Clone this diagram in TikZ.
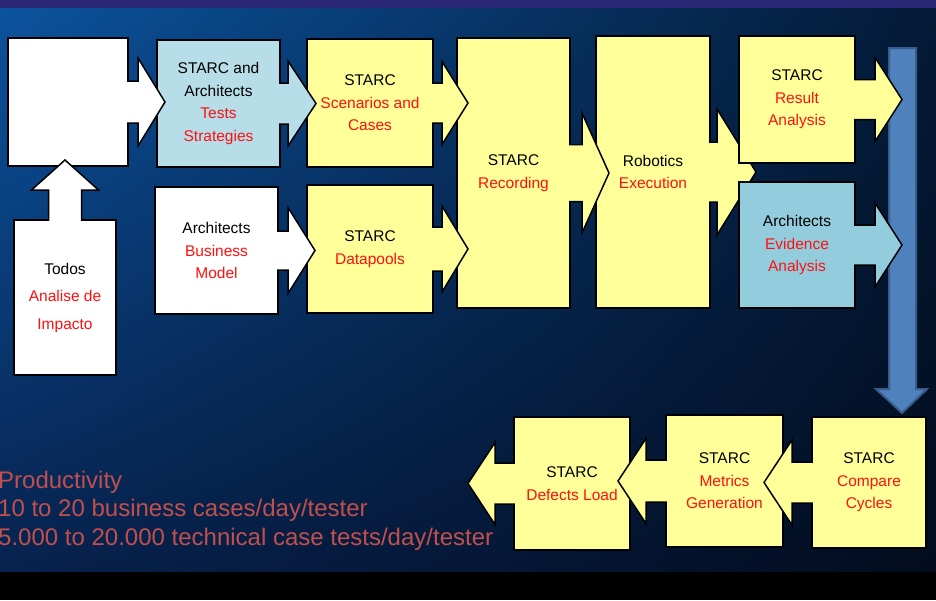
\documentclass[tikz,border=0pt]{standalone}
\usepackage{fontspec}
\setmainfont{Liberation Sans}
\usetikzlibrary{shadings}

\definecolor{bgtl}{HTML}{0B539E}
\definecolor{bgtr}{HTML}{041A36}
\definecolor{bgbl}{HTML}{07224E}
\definecolor{bgbr}{HTML}{020C1E}
\definecolor{topband}{HTML}{2C2878}
\definecolor{paleyellow}{HTML}{FFFF99}
\definecolor{paleblue}{HTML}{B7DEE8}
\definecolor{midblue}{HTML}{93CDDD}
\definecolor{hl}{HTML}{FF1010}
\definecolor{notered}{HTML}{C0504D}
\definecolor{dropfill}{HTML}{4F81BD}
\definecolor{dropline}{HTML}{385D8A}

% block arrow out of a box: node, anchor, angle, fill, shaft half, shaft length, head half, head length
\newcommand{\blockarrow}[8]{%
  \filldraw[blockline, fill=#4, shift={(#1.#2)}, rotate=#3]
    (-0.8,#5) -- (#6,#5) -- (#6,#7) -- ({#6+#8},0) -- (#6,-#7) -- (#6,-#5) -- (-0.8,-#5);}

\begin{document}
\begin{tikzpicture}
  [x=1pt, y=-1pt,
  box/.style={draw=black, line width=1.5pt, outer sep=0pt, inner sep=2pt,
    align=center, font=\fontsize{15.5}{22.5}\selectfont},
  blockline/.style={line width=1.5pt, draw=black, miter limit=20},
  note/.style={align=left, text=notered, inner sep=0pt,
    font=\fontsize{24}{28.5}\selectfont}]

  \useasboundingbox (0,0) rectangle (936,600);

  % background
  \shade[upper left=bgtl, upper right=bgtr, lower left=bgbl, lower right=bgbr]
    (0,8) rectangle (936,572);
  \fill[topband] (0,0) rectangle (936,8);
  \fill[black] (0,572) rectangle (936,600);

  % big arrow down the right side
  \filldraw[fill=dropfill, draw=dropline, line width=2pt]
    (889,48) -- (916,48) -- (916,389) -- (927,389) -- (902,413)
    -- (876,389) -- (889,389) -- cycle;

  \node[box, fill=paleyellow, minimum width=114, minimum height=272] (robotics) at (653,172)
    {Robotics\\\textcolor{hl}{Execution}};
  \blockarrow{robotics}{east}{0}{paleyellow}{30}{7}{63}{39}

  \node[box, fill=white, minimum width=120, minimum height=128] (blank) at (68,102) {};
  \node[box, fill=white, minimum width=102, minimum height=155,
    font=\fontsize{15.5}{27.5}\selectfont] (todos) at (65,297.5)
    {Todos\\\textcolor{hl}{Analise de}\\\textcolor{hl}{Impacto}};
  \node[box, fill=paleblue, minimum width=123, minimum height=127] (strategy) at (218.5,103.5)
    {STARC and\\Architects\\\textcolor{hl}{Tests}\\\textcolor{hl}{Strategies}};
  \node[box, fill=white, minimum width=123, minimum height=127] (business) at (216.5,250.5)
    {Architects\\\textcolor{hl}{Business}\\\textcolor{hl}{Model}};
  \node[box, fill=paleyellow, minimum width=126, minimum height=128] (scenarios) at (370,103)
    {STARC\\\textcolor{hl}{Scenarios and}\\\textcolor{hl}{Cases}};
  \node[box, fill=paleyellow, minimum width=126, minimum height=128] (datapools) at (370,249)
    {STARC\\\textcolor{hl}{Datapools}};
  \node[box, fill=paleyellow, minimum width=113, minimum height=270] (recording) at (513.5,173)
    {STARC\\\textcolor{hl}{Recording}};
  \node[box, fill=paleyellow, minimum width=116, minimum height=127] (result) at (797,99.5)
    {STARC\\\textcolor{hl}{Result}\\\textcolor{hl}{Analysis}};
  \node[box, fill=midblue, minimum width=116, minimum height=126] (evidence) at (797,245)
    {Architects\\\textcolor{hl}{Evidence}\\\textcolor{hl}{Analysis}};
  \node[box, fill=paleyellow, minimum width=114, minimum height=131] (compare) at (869,482.5)
    {STARC\\\textcolor{hl}{Compare}\\\textcolor{hl}{Cycles}};
  \node[box, fill=paleyellow, minimum width=117, minimum height=132] (metrics) at (724.5,481)
    {STARC\\\textcolor{hl}{Metrics}\\\textcolor{hl}{Generation}};
  \node[box, fill=paleyellow, minimum width=116, minimum height=133] (defects) at (572,483.5)
    {STARC\\\textcolor{hl}{Defects Load}};

  % arrows between the steps
  \blockarrow{blank}{east}{0}{white}{21}{10}{44}{27}
  \blockarrow{todos}{north}{90}{white}{16.5}{30}{33.5}{30}
  \blockarrow{strategy}{east}{0}{paleblue}{20.5}{8}{42.5}{28}
  \blockarrow{business}{east}{0}{white}{19.5}{10}{43}{27}
  \blockarrow{scenarios}{east}{0}{paleyellow}{20}{9}{41.5}{26}
  \blockarrow{datapools}{east}{0}{paleyellow}{22}{9}{43}{26}
  \blockarrow{recording}{east}{0}{paleyellow}{28.5}{12}{60}{27}
  \blockarrow{result}{east}{0}{paleyellow}{20}{20}{42}{27}
  \blockarrow{evidence}{east}{0}{midblue}{20}{20}{42}{27}
  \blockarrow{compare}{west}{180}{paleyellow}{20.5}{20}{42.5}{28}
  \blockarrow{metrics}{west}{180}{paleyellow}{21}{20}{42.5}{28}
  \blockarrow{defects}{west}{180}{paleyellow}{20.5}{19}{41}{27}

  \node[note, anchor=base west] (prod) at (-2,545)
    {Productivity\\10 to 20 business cases/day/tester\\5.000 to 20.000 technical case tests/day/tester};
\end{tikzpicture}
\end{document}
